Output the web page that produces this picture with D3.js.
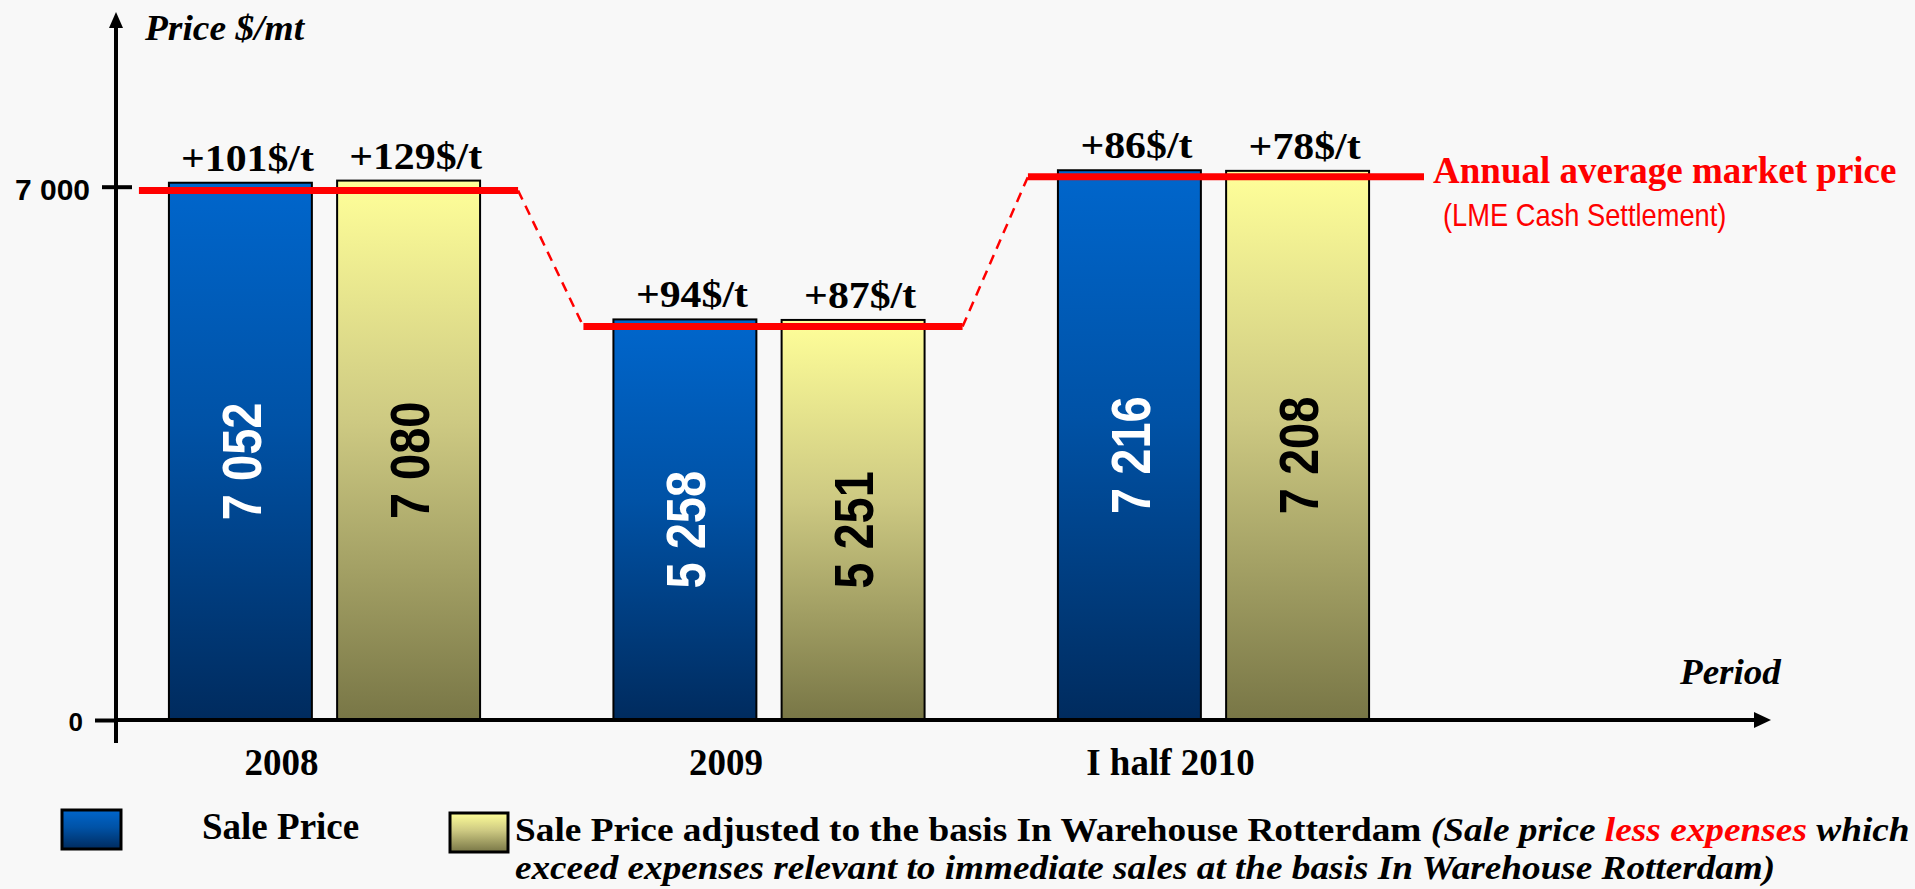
<!DOCTYPE html>
<html><head><meta charset="utf-8">
<script src="https://cdn.jsdelivr.net/npm/d3@7"></script>
<style>
html,body{margin:0;padding:0;background:#f8f8f8;}
svg{display:block;}
</style></head><body>
<svg id="chart" width="1915" height="889"></svg>
<script>
// ---------------- data ----------------
const categories = ["2008", "2009", "I half 2010"];
const salePrice = [7052, 5258, 7216];
const adjustedPrice = [7080, 5251, 7208];
const marketAverage = [6951, 5164, 7130];   // LME cash settlement annual average
const yTicks = [0, 7000];
const yTickLabels = ["0", "7 000"];
const seriesNames = ["Sale Price", "Sale Price adjusted to the basis In Warehouse Rotterdam"];

// ---------------- setup ----------------
const svg = d3.select("#chart");
const SERIF = "'Liberation Serif','Times New Roman',serif";
const SANS = "'Liberation Sans',Arial,sans-serif";
const fmt = d3.formatLocale({decimal: ".", thousands: " ", grouping: [3], currency: ["$", ""]}).format(",");

svg.append("rect").attr("width", 1915).attr("height", 889).attr("fill", "#f8f8f8");

const defs = svg.append("defs");
function grad(id, stops) {
  const g = defs.append("linearGradient").attr("id", id).attr("x1", 0).attr("y1", 0).attr("x2", 0).attr("y2", 1);
  stops.forEach(s => g.append("stop").attr("offset", s[0]).attr("stop-color", s[1]));
}
grad("gBlue", [[0, "#0066cc"], [0.45, "#0052a6"], [1, "#002b5e"]]);
grad("gYellow", [[0, "#ffff99"], [0.45, "#cdc982"], [1, "#787646"]]);

const y = d3.scaleLinear().domain([0, 7000]).range([720, 186.7]);
const x = d3.scaleBand().domain(categories).range([102.25, 1435.75]).paddingInner(0.3).paddingOuter(0.15);
const xs = d3.scaleBand().domain([0, 1]).range([0, x.bandwidth()]).paddingInner(0.15);

const series = [
  {values: salePrice, fill: "url(#gBlue)", text: "#ffffff"},
  {values: adjustedPrice, fill: "url(#gYellow)", text: "#000000"}
];

// ---------------- bars ----------------
const barData = [];
series.forEach((s, si) => s.values.forEach((v, ci) => barData.push({si, ci, v, cat: categories[ci], s})));

const bars = svg.append("g");
bars.selectAll("rect").data(barData).join("rect")
  .attr("x", d => x(d.cat) + xs(d.si))
  .attr("y", d => y(d.v))
  .attr("width", xs.bandwidth())
  .attr("height", d => y(0) - y(d.v))
  .attr("fill", d => d.s.fill)
  .attr("stroke", "#000").attr("stroke-width", 2);

// rotated values inside the bars
bars.selectAll("text.val").data(barData).join("text").attr("class", "val")
  .attr("transform", d => {
    const cx = x(d.cat) + xs(d.si) + xs.bandwidth() / 2;
    const cy = (y(d.v) + y(0)) / 2 + 10;
    return `translate(${cx},${cy}) scale(1.19,1) rotate(-90)`;
  })
  .attr("text-anchor", "middle").attr("dy", "0.36em")
  .attr("font-family", SANS).attr("font-weight", "bold").attr("font-size", 47)
  .attr("fill", d => d.s.text)
  .text(d => fmt(d.v));

// premium labels above bars
bars.selectAll("text.prem").data(barData).join("text").attr("class", "prem")
  .attr("transform", d => {
    const cx = x(d.cat) + xs(d.si) + xs.bandwidth() / 2 + 7;
    return `translate(${cx},${y(d.v) - 12}) scale(1.1,1)`;
  })
  .attr("text-anchor", "middle")
  .attr("font-family", SERIF).attr("font-weight", "bold").attr("font-size", 38)
  .attr("fill", "#000")
  .text(d => "+" + (d.v - marketAverage[d.ci]) + "$/t");

// ---------------- market average line ----------------
const labelX = 1433;
const seg = marketAverage.map((v, i) => ({
  x1: x(categories[i]) - 30,
  x2: i === categories.length - 1 ? labelX - 9 : x(categories[i]) + x.bandwidth() + 38,
  yy: y(v)
}));
const avgG = svg.append("g");
for (let i = 0; i < seg.length - 1; i++) {
  avgG.append("line")
    .attr("x1", seg[i].x2).attr("y1", seg[i].yy)
    .attr("x2", seg[i + 1].x1).attr("y2", seg[i + 1].yy)
    .attr("stroke", "#ff0000").attr("stroke-width", 2.5).attr("stroke-dasharray", "10,7");
}
avgG.selectAll("line.solid").data(seg).join("line").attr("class", "solid")
  .attr("x1", d => d.x1).attr("x2", d => d.x2)
  .attr("y1", d => d.yy).attr("y2", d => d.yy)
  .attr("stroke", "#ff0000").attr("stroke-width", 7);

const lastY = seg[seg.length - 1].yy;
avgG.append("text")
  .attr("x", labelX).attr("y", lastY + 6)
  .attr("font-family", SERIF).attr("font-weight", "bold").attr("font-size", 37)
  .attr("fill", "#ff0000").text("Annual average market price");
avgG.append("text")
  .attr("transform", `translate(${labelX + 10},${lastY + 49}) scale(0.88,1)`)
  .attr("font-family", SANS).attr("font-size", 31)
  .attr("fill", "#ff0000").text("(LME Cash Settlement)");

// ---------------- axes ----------------
const axisX0 = 116;
const yAxis = svg.append("g").attr("transform", `translate(${axisX0},0)`)
  .call(d3.axisLeft(y).tickValues(yTicks).tickFormat((d, i) => yTickLabels[i]).tickSize(21).tickPadding(6));
yAxis.select(".domain").remove();
yAxis.selectAll(".tick line").attr("stroke", "#000").attr("stroke-width", 4)
  .attr("x1", d => d > 0 ? 16 : 0).attr("x2", d => d > 0 ? -14 : -21);
yAxis.selectAll(".tick text")
  .attr("x", d => d > 0 ? -26 : -33).attr("dy", "0.42em")
  .attr("font-family", SANS).attr("font-weight", "bold")
  .attr("font-size", d => d > 0 ? 30 : 26).attr("fill", "#000");

// axis lines with arrows
const axG = svg.append("g");
axG.append("line").attr("x1", axisX0).attr("x2", axisX0).attr("y1", 743).attr("y2", 24)
  .attr("stroke", "#000").attr("stroke-width", 4);
axG.append("path").attr("d", `M${axisX0},12 L${axisX0 - 7},28 L${axisX0 + 7},28 Z`).attr("fill", "#000");
axG.append("line").attr("x1", axisX0).attr("x2", 1758).attr("y1", y(0)).attr("y2", y(0))
  .attr("stroke", "#000").attr("stroke-width", 4);
axG.append("path").attr("d", `M1771,${y(0)} L1754,${y(0) - 8} L1754,${y(0) + 8} Z`).attr("fill", "#000");

const xAxis = svg.append("g").attr("transform", `translate(0,${y(0)})`)
  .call(d3.axisBottom(x).tickSize(0));
xAxis.select(".domain").remove();
xAxis.selectAll(".tick text")
  .attr("x", -43).attr("y", 55).attr("dy", 0)
  .attr("font-family", SERIF).attr("font-weight", "bold").attr("font-size", 37).attr("fill", "#000");

// axis titles
svg.append("text").attr("transform", "translate(145,40) scale(1.04,1)")
  .attr("font-family", SERIF).attr("font-weight", "bold").attr("font-style", "italic").attr("font-size", 36)
  .text("Price $/mt");
svg.append("text").attr("transform", "translate(1680,684) scale(1.03,1)")
  .attr("font-family", SERIF).attr("font-weight", "bold").attr("font-style", "italic").attr("font-size", 36)
  .text("Period");

// ---------------- legend ----------------
const lg = svg.append("g");
lg.append("rect").attr("x", 62).attr("y", 810).attr("width", 59).attr("height", 39)
  .attr("fill", "url(#gBlue)").attr("stroke", "#000").attr("stroke-width", 3);
lg.append("text").attr("x", 202).attr("y", 839)
  .attr("font-family", SERIF).attr("font-weight", "bold").attr("font-size", 37).text(seriesNames[0]);
lg.append("rect").attr("x", 450).attr("y", 813).attr("width", 58).attr("height", 39)
  .attr("fill", "url(#gYellow)").attr("stroke", "#000").attr("stroke-width", 3);

function fitText(sel, tx, ty, width) {
  const w = sel.node().getComputedTextLength();
  sel.attr("transform", `translate(${tx},${ty}) scale(${width / w},1)`);
}
const l1 = lg.append("text").attr("font-family", SERIF).attr("font-weight", "bold").attr("font-size", 34);
l1.append("tspan").text(seriesNames[1] + " ");
l1.append("tspan").attr("font-style", "italic").text("(Sale price ");
l1.append("tspan").attr("font-style", "italic").attr("fill", "#ff0000").text("less expenses");
l1.append("tspan").attr("font-style", "italic").text(" which");
fitText(l1, 515, 841, 1395);
const l2 = lg.append("text").attr("font-family", SERIF).attr("font-weight", "bold").attr("font-style", "italic").attr("font-size", 34)
  .text("exceed expenses relevant to immediate sales at the basis In Warehouse Rotterdam)");
fitText(l2, 515, 879, 1261);
</script>
</body></html>
